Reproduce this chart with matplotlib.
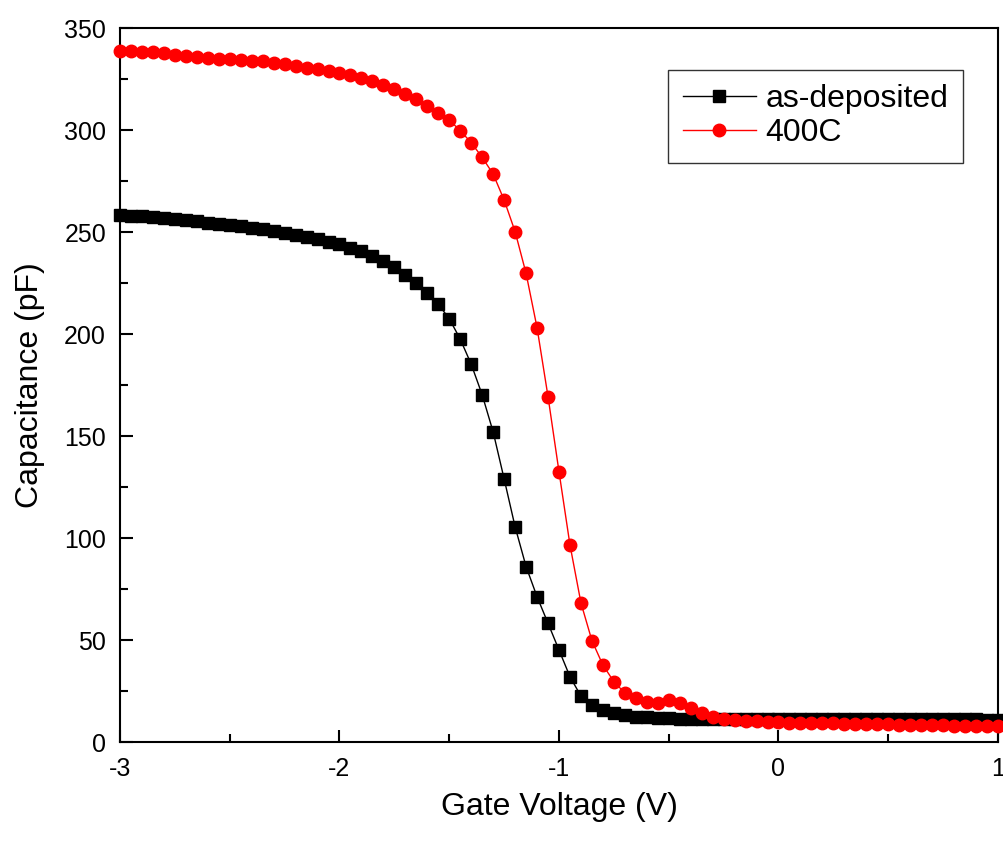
import numpy as np
import matplotlib
matplotlib.use("Agg")
import matplotlib.pyplot as plt
from matplotlib.ticker import MultipleLocator

plt.rcParams['font.family'] = ['Liberation Sans', 'DejaVu Sans']
plt.rcParams['axes.unicode_minus'] = False

voltage = np.round(np.arange(-3.0, 1.0001, 0.05), 2)

as_deposited = [
    258.5, 258.0, 257.6, 257.2, 256.7, 256.2, 255.7, 255.2, 254.6, 254.0,
    253.4, 252.8, 252.1, 251.3, 250.5, 249.6, 248.7, 247.7, 246.6, 245.3,
    243.9, 242.3, 240.5, 238.3, 235.8, 232.6, 229.0, 224.8, 220.2, 214.6,
    207.5, 197.5, 185.2, 170.2, 152.0, 129.0, 105.5, 86.0, 71.2, 58.2,
    45.1, 32.0, 22.5, 18.1, 15.7, 14.2, 13.1, 12.5, 12.1, 11.8,
    11.6, 11.5, 11.5, 11.4, 11.4, 11.4, 11.4, 11.4, 11.5, 11.5,
    11.5, 11.5, 11.5, 11.5, 11.5, 11.5, 11.5, 11.5, 11.4, 11.4,
    11.4, 11.4, 11.3, 11.3, 11.3, 11.2, 11.2, 11.1, 11.1, 11.0,
    11.0,
]

annealed_400c = [
    338.8, 338.6, 338.4, 338.0, 337.6, 337.0, 336.4, 336.0, 335.5, 335.0,
    334.6, 334.3, 334.0, 333.6, 333.0, 332.2, 331.2, 330.4, 329.8, 329.0,
    328.0, 326.8, 325.3, 323.8, 322.0, 320.0, 317.8, 315.2, 311.8, 308.5,
    304.9, 299.7, 293.8, 286.6, 278.4, 265.7, 250.2, 229.7, 203.1, 169.3,
    132.5, 96.6, 68.2, 49.7, 37.7, 29.6, 24.0, 21.4, 19.4, 19.1,
    20.4, 19.3, 16.8, 14.4, 12.5, 11.5, 10.9, 10.5, 10.2, 9.9,
    9.6, 9.5, 9.4, 9.3, 9.2, 9.1, 9.0, 8.9, 8.8, 8.7,
    8.6, 8.5, 8.4, 8.3, 8.2, 8.1, 8.0, 7.9, 7.8, 7.7,
    7.6,
]

series_labels = ["as-deposited", "400C"]
x_ticks = [-3, -2, -1, 0, 1]
y_ticks = [0, 50, 100, 150, 200, 250, 300, 350]

fig = plt.figure(figsize=(10.04, 8.42), dpi=100)
ax = fig.add_axes([120/1004, 1-742/842, (998-120)/1004, (742-28)/842])

ax.plot(voltage, as_deposited, color='black', lw=1.0, marker='s', ms=8,
        mec='black', mfc='black', label=series_labels[0], clip_on=False, zorder=3)
ax.plot(voltage, annealed_400c, color='#ff0000', lw=1.0, marker='o', ms=9,
        mec='#ff0000', mfc='#ff0000', label=series_labels[1], clip_on=False, zorder=4)

ax.set_xlim(-3, 1)
ax.set_ylim(0, 350)
ax.set_xticks(x_ticks)
ax.set_xticklabels([str(t) for t in x_ticks])
ax.set_yticks(y_ticks)
ax.xaxis.set_minor_locator(MultipleLocator(0.5))
ax.yaxis.set_minor_locator(MultipleLocator(25))

ax.tick_params(which='both', direction='in', top=False, right=False, width=1.5)
ax.tick_params(which='major', length=9)
ax.tick_params(which='minor', length=5.5)
ax.tick_params(axis='x', which='major', labelsize=18, pad=11)
ax.tick_params(axis='y', which='major', labelsize=18, pad=10)
for s in ax.spines.values():
    s.set_linewidth(1.5)

ax.set_xlabel("Gate Voltage (V)", fontsize=23, labelpad=8)
ax.set_ylabel("Capacitance (pF)", fontsize=23, labelpad=14)

leg = ax.legend(loc='upper right', bbox_to_anchor=(963/1004, 1-70/842),
                bbox_transform=fig.transFigure, fontsize=23, frameon=True,
                fancybox=False, edgecolor='black', handlelength=2.3,
                handletextpad=0.3, borderpad=0.45, labelspacing=0.12,
                borderaxespad=0)
leg.get_frame().set_linewidth(1.0)

fig.savefig("out.png", dpi=100)
